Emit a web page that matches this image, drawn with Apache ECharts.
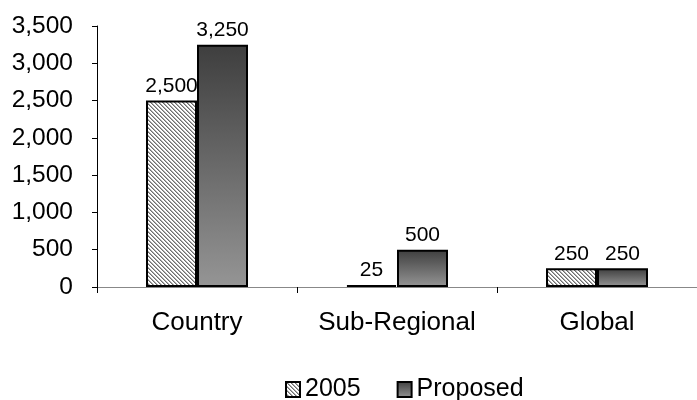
<!DOCTYPE html>
<html>
<head>
<meta charset="utf-8">
<script src="https://cdn.jsdelivr.net/npm/echarts@6/dist/echarts.min.js"></script>
<style>
html,body{margin:0;padding:0;background:#fff;}
#chart{width:697px;height:400px;}
</style>
</head>
<body>
<div id="chart"></div>
<script>
const categories = ['Country', 'Sub-Regional', 'Global'];
const seriesNames = ['2005', 'Proposed'];
const values2005 = [2500, 25, 250];
const valuesProposed = [3250, 500, 250];

function makeHatch() {
  const c = document.createElement('canvas');
  c.width = 4; c.height = 4;
  const ctx = c.getContext('2d');
  const img = ctx.createImageData(4, 4);
  for (let y = 0; y < 4; y++) {
    for (let x = 0; x < 4; x++) {
      const d = ((x - y) % 4 + 4) % 4;
      let v = 255;
      if (d === 0) v = 110;
      else if (d === 1) v = 175;
      const i = (y * 4 + x) * 4;
      img.data[i] = v; img.data[i + 1] = v; img.data[i + 2] = v; img.data[i + 3] = 255;
    }
  }
  ctx.putImageData(img, 0, 0);
  return c;
}

const font = 'Liberation Sans, Arial, sans-serif';
const chart = echarts.init(document.getElementById('chart'), null, {renderer: 'canvas'});
const labelFmt = p => Number(p.value).toLocaleString('en-US');

chart.setOption({
  animation: false,
  backgroundColor: '#fff',
  grid: {left: 97, top: 26, right: -6, bottom: 113, containLabel: false},
  legend: {
    top: 372,
    left: 280,
    icon: 'rect',
    itemWidth: 14,
    itemHeight: 15,
    itemGap: 36,
    textStyle: {fontFamily: font, fontSize: 25, color: '#000', padding: [0, 0, 0, 0]},
    data: seriesNames
  },
  xAxis: {
    type: 'category',
    data: categories,
    axisLine: {lineStyle: {color: '#888', width: 1}},
    axisTick: {show: true, length: 6, lineStyle: {color: '#000'}},
    axisLabel: {interval: 0, hideOverlap: false, fontFamily: font, fontSize: 26, color: '#000', margin: 23}
  },
  yAxis: {
    type: 'value',
    min: 0, max: 3500, interval: 500,
    axisLine: {show: true, lineStyle: {color: '#000', width: 1}},
    axisTick: {show: true, length: 5, lineStyle: {color: '#000'}},
    splitLine: {show: false},
    axisLabel: {fontFamily: font, fontSize: 24.5, color: '#000', margin: 24,
      formatter: v => Number(v).toLocaleString('en-US')}
  },
  series: [
    {
      name: seriesNames[0],
      type: 'bar',
      data: values2005,
      barGap: '0%',
      barCategoryGap: '49%',
      itemStyle: {
        color: {image: makeHatch(), repeat: 'repeat'},
        borderColor: '#000',
        borderWidth: 2
      },
      label: {show: true, position: 'top', distance: 4, fontFamily: font, fontSize: 21, color: '#000', formatter: labelFmt}
    },
    {
      name: seriesNames[1],
      type: 'bar',
      data: valuesProposed,
      barGap: '0%',
      barCategoryGap: '49%',
      itemStyle: {
        color: new echarts.graphic.LinearGradient(0, 0, 0, 1, [
          {offset: 0, color: '#3e3e3e'},
          {offset: 1, color: '#959595'}
        ]),
        borderColor: '#000',
        borderWidth: 2
      },
      label: {show: true, position: 'top', distance: 4, fontFamily: font, fontSize: 21, color: '#000', formatter: labelFmt}
    }
  ]
});
</script>
</body>
</html>
